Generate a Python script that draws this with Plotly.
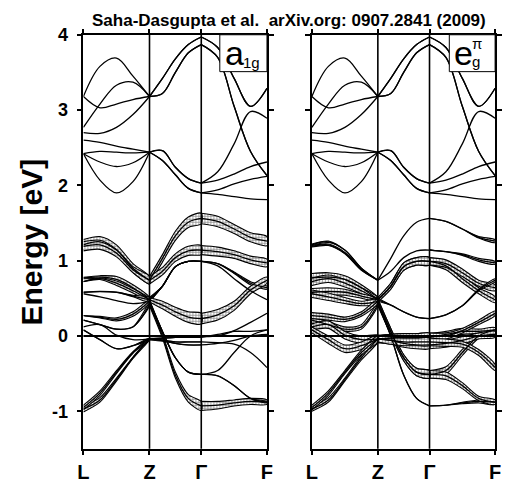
import plotly.graph_objects as go

# ---------------- data ----------------
K = [0.0, 0.09, 0.18, 0.27, 0.36, 0.4305, 0.501, 0.5715, 0.642, 0.7315, 0.821, 0.9105, 1.0]
KPOINT_POS = [0.0, 0.36, 0.642, 1.0]
KPOINT_LBL = ["L", "Z", "Γ", "F"]
E_TICKS = [-1, 0, 1, 2, 3, 4]
E_TICK_LBL = ["-1", "0", "1", "2", "3", "4"]

# upper (unhighlighted) bands
U1 = [3.18, 3.58, 3.69, 3.45, 3.18, 3.42, 3.68, 3.87, 3.97, 3.83, 3.42, 3.05, 3.29]
U2 = [2.77, 3.08, 3.33, 3.37, 3.18, 3.22, 3.50, 3.76, 3.87, 3.70, 3.05, 2.45, 2.13]
U3 = [3.18, 3.03, 3.08, 3.14, 3.18, 3.42, 3.68, 3.87, 3.97, 3.83, 3.42, 3.05, 3.29]
U4 = [2.70, 2.69, 2.77, 2.94, 3.18, 3.22, 3.50, 3.76, 3.87, 3.70, 3.05, 2.45, 2.13]
U5 = [2.60, 2.57, 2.52, 2.48, 2.44, 2.46, 2.24, 2.09, 2.03, 2.18, 2.55, 2.98, 2.89]
U6 = [2.42, 2.45, 2.44, 2.43, 2.44, 2.33, 2.14, 1.96, 1.90, 1.88, 1.85, 1.82, 1.81]
U7 = [2.42, 2.31, 2.25, 2.30, 2.44, 2.46, 2.24, 2.09, 2.03, 2.07, 2.15, 2.25, 2.31]
U8 = [2.42, 2.07, 1.90, 2.05, 2.44, 2.33, 2.14, 1.96, 1.90, 1.94, 2.02, 2.08, 2.12]

# lower (t2g) bands
B1 = [1.21, 1.25, 1.14, 0.90, 0.74, 1.03, 1.33, 1.51, 1.56, 1.52, 1.42, 1.31, 1.26]
B2 = [1.19, 1.21, 1.10, 0.88, 0.74, 0.86, 1.04, 1.13, 1.14, 1.12, 1.08, 1.01, 0.97]
B3 = [0.77, 0.78, 0.75, 0.64, 0.48, 0.66, 0.92, 0.99, 0.99, 0.93, 0.76, 0.60, 0.48]
B4 = [0.72, 0.76, 0.70, 0.60, 0.48, 0.66, 0.92, 0.99, 0.99, 0.96, 0.84, 0.70, 0.64]
B5 = [0.58, 0.59, 0.58, 0.53, 0.48, 0.41, 0.32, 0.25, 0.23, 0.28, 0.40, 0.61, 0.74]
B6 = [0.56, 0.52, 0.47, 0.43, 0.46, 0.06, -0.29, -0.48, -0.51, -0.46, -0.22, 0.00, 0.08]
B7 = [0.21, 0.15, 0.09, 0.12, 0.42, 0.00, -0.52, -0.83, -0.93, -0.92, -0.89, -0.87, -0.88]
B8 = [0.27, 0.25, 0.22, 0.29, 0.46, 0.06, -0.29, -0.48, -0.51, -0.53, -0.66, -0.83, -0.88]
B9 = [0.12, 0.15, 0.01, -0.05, -0.04, -0.03, -0.02, -0.02, -0.02, 0.02, 0.06, 0.06, 0.08]
B10 = [0.08, -0.05, -0.17, -0.13, -0.04, -0.06, -0.10, -0.12, -0.12, -0.10, -0.06, 0.00, 0.02]
B11 = [-0.97, -0.85, -0.58, -0.29, -0.04, -0.03, -0.02, -0.02, -0.01, 0.00, 0.07, 0.18, 0.30]
B12 = [-0.95, -0.76, -0.48, -0.22, -0.04, -0.06, -0.08, -0.08, -0.08, -0.09, -0.11, -0.22, -0.42]

# fat-band half widths (eV), a1g character
A1 = [0.07, 0.07, 0.07, 0.06, 0.05, 0.05, 0.06, 0.07, 0.07, 0.07, 0.06, 0.06, 0.06]
A2 = [0.06, 0.06, 0.05, 0.04, 0.05, 0.05, 0.05, 0.06, 0.06, 0.06, 0.05, 0.05, 0.05]
A3 = [0.01, 0.02, 0.04, 0.04, 0.03, 0.0, 0.0, 0.0, 0.0, 0.0, 0.0, 0.0, 0.0]
A4 = [0.0, 0.01, 0.03, 0.03, 0.02, 0.0, 0.0, 0.0, 0.0, 0.0, 0.01, 0.02, 0.02]
A5 = [0.0, 0.0, 0.0, 0.01, 0.03, 0.05, 0.06, 0.07, 0.07, 0.07, 0.06, 0.05, 0.04]
A6 = [0.0] * 13
A7 = [0.0, 0.0, 0.0, 0.0, 0.02, 0.03, 0.04, 0.05, 0.06, 0.05, 0.04, 0.04, 0.03]
A8 = [0.0, 0.01, 0.02, 0.03, 0.02, 0.0, 0.0, 0.0, 0.0, 0.0, 0.0, 0.0, 0.01]
A9 = [0.0] * 13
A10 = [0.0, 0.0, 0.0, 0.0, 0.01, 0.01, 0.0, 0.0, 0.0, 0.0, 0.0, 0.0, 0.0]
A11 = [0.04, 0.03, 0.02, 0.01, 0.01, 0.0, 0.0, 0.0, 0.0, 0.0, 0.0, 0.0, 0.0]
A12 = [0.03, 0.03, 0.02, 0.01, 0.01, 0.0, 0.0, 0.0, 0.0, 0.0, 0.0, 0.0, 0.0]

# fat-band half widths (eV), eg-pi character
G1 = [0.01, 0.01, 0.0, 0.0, 0.0, 0.0, 0.0, 0.0, 0.0, 0.0, 0.0, 0.01, 0.02]
G2 = [0.01, 0.01, 0.01, 0.01, 0.0, 0.0, 0.0, 0.0, 0.0, 0.0, 0.01, 0.02, 0.02]
G3 = [0.06, 0.06, 0.05, 0.04, 0.03, 0.04, 0.05, 0.05, 0.05, 0.05, 0.05, 0.04, 0.04]
G4 = [0.05, 0.05, 0.05, 0.04, 0.03, 0.04, 0.05, 0.05, 0.05, 0.05, 0.05, 0.04, 0.04]
G5 = [0.05, 0.05, 0.04, 0.03, 0.02, 0.0, 0.0, 0.0, 0.0, 0.0, 0.0, 0.01, 0.02]
G6 = [0.05, 0.05, 0.04, 0.03, 0.03, 0.04, 0.04, 0.05, 0.05, 0.05, 0.04, 0.03, 0.03]
G7 = [0.04, 0.04, 0.03, 0.03, 0.02, 0.0, 0.0, 0.0, 0.0, 0.0, 0.01, 0.02, 0.03]
G8 = [0.04, 0.04, 0.03, 0.03, 0.03, 0.04, 0.04, 0.05, 0.05, 0.05, 0.04, 0.03, 0.03]
G9 = [0.04, 0.05, 0.05, 0.05, 0.05, 0.05, 0.05, 0.05, 0.05, 0.04, 0.04, 0.03, 0.03]
G10 = [0.04, 0.05, 0.05, 0.05, 0.05, 0.05, 0.05, 0.05, 0.05, 0.05, 0.05, 0.04, 0.04]
G11 = [0.03, 0.03, 0.02, 0.03, 0.04, 0.05, 0.05, 0.05, 0.05, 0.04, 0.03, 0.03, 0.03]
G12 = [0.03, 0.03, 0.02, 0.03, 0.04, 0.05, 0.05, 0.05, 0.05, 0.05, 0.04, 0.04, 0.04]

UPPER = [U1, U2, U3, U4, U5, U6, U7, U8]
LOWER = [B1, B2, B3, B4, B5, B6, B7, B8, B9, B10, B11, B12]
W_A1G = [A1, A2, A3, A4, A5, A6, A7, A8, A9, A10, A11, A12]
W_EG = [G1, G2, G3, G4, G5, G6, G7, G8, G9, G10, G11, G12]

SEGS = [(0, 4), (4, 8), (8, 12)]


def seg_xy(vals):
    xs, ys = [], []
    for a, b in SEGS:
        xs += K[a:b + 1] + [None]
        ys += vals[a:b + 1] + [None]
    return xs, ys


def fat_xy(vals, w):
    xs, ys = [], []
    for a, b in SEGS:
        ww = w[a:b + 1]
        if max(ww) <= 0:
            continue
        kk = K[a:b + 1]
        vv = vals[a:b + 1]
        up = [v + d for v, d in zip(vv, ww)]
        lo = [v - d for v, d in zip(vv, ww)]
        xs += kk + kk[::-1] + [None]
        ys += up + lo[::-1] + [None]
    return xs, ys


fig = go.Figure()
FONT = "Liberation Sans"

for xa, ya, widths in [("x", "y", W_A1G), ("x2", "y2", W_EG)]:
    # fat bands
    for vals, w in zip(LOWER, widths):
        fx, fy = fat_xy(vals, w)
        if fx:
            fig.add_trace(go.Scatter(
                x=fx, y=fy, xaxis=xa, yaxis=ya, mode="lines", fill="toself",
                line=dict(color="black", width=1.1, shape="spline", smoothing=0.8),
                fillcolor="white",
                fillpattern=dict(shape="+", size=3, solidity=0.4,
                                 fgcolor="black", bgcolor="white"),
                hoverinfo="skip", showlegend=False))
    # band lines
    for vals in UPPER + LOWER:
        lx, ly = seg_xy(vals)
        fig.add_trace(go.Scatter(
            x=lx, y=ly, xaxis=xa, yaxis=ya, mode="lines",
            line=dict(color="black", width=1.3, shape="spline", smoothing=1.0),
            connectgaps=False, hoverinfo="skip", showlegend=False))

# geometry
Y_DOM = [0.0838, 0.9483]
X1_DOM = [0.1567, 0.5283]
X2_DOM = [0.6192, 0.9901]

xcommon = dict(range=[0, 1], showgrid=False, zeroline=False, showline=True,
               linecolor="black", linewidth=1.5, mirror="ticks", ticks="outside",
               ticklen=4, tickwidth=1.5, tickcolor="black",
               tickvals=KPOINT_POS, ticktext=KPOINT_LBL,
               tickfont=dict(family=FONT, size=20, color="black", weight="bold"))
ycommon = dict(range=[-1.5, 4], showgrid=False, zeroline=False, showline=True,
               linecolor="black", linewidth=1.5, mirror="ticks", ticks="outside",
               ticklen=5, tickwidth=1.5, tickcolor="black",
               tickvals=E_TICKS, ticktext=E_TICK_LBL,
               tickfont=dict(family=FONT, size=18, color="black", weight="bold"))

fig.update_layout(
    width=506, height=489, margin=dict(l=0, r=0, t=0, b=0),
    paper_bgcolor="white", plot_bgcolor="white",
    xaxis=dict(domain=X1_DOM, anchor="y", **xcommon),
    xaxis2=dict(domain=X2_DOM, anchor="y2", **xcommon),
    yaxis=dict(domain=Y_DOM, anchor="x", ticklabelstandoff=5, **ycommon),
    yaxis2=dict(domain=Y_DOM, anchor="x2", showticklabels=False, **ycommon),
)

shapes = []
for xr, yr in [("x", "y"), ("x2", "y2")]:
    for kp in KPOINT_POS[1:3]:
        shapes.append(dict(type="line", xref=xr, yref=yr + " domain", x0=kp, x1=kp,
                           y0=0, y1=1, line=dict(color="black", width=1.6), layer="above"))
    shapes.append(dict(type="line", xref=xr + " domain", yref=yr, x0=0, x1=1,
                       y0=0, y1=0, line=dict(color="black", width=2), layer="above"))
# label boxes
shapes.append(dict(type="rect", xref="x", yref="y", x0=0.743, x1=1.0, y0=3.51, y1=4.0,
                   line=dict(color="black", width=1), fillcolor="white", layer="above"))
shapes.append(dict(type="rect", xref="x2", yref="y2", x0=0.75, x1=1.0, y0=3.51, y1=4.0,
                   line=dict(color="black", width=1), fillcolor="white", layer="above"))
fig.update_layout(shapes=shapes)

ann = [
    dict(text="<b>Saha-Dasgupta et al.  arXiv.org: 0907.2841 (2009)</b>", xref="paper",
         yref="paper", x=0.572, y=0.979, showarrow=False,
         font=dict(family=FONT, size=17, color="black"), xanchor="center", yanchor="middle"),
    dict(text="<b>Energy [eV]</b>", xref="paper", yref="paper", x=0.051, y=0.515,
         showarrow=False, textangle=-90, font=dict(family=FONT, size=30, color="black"),
         xanchor="center", yanchor="middle"),
    dict(text="a", xref="x", yref="y", x=0.76, y=3.76, showarrow=False, xanchor="left",
         yanchor="middle", font=dict(family=FONT, size=34, color="black")),
    dict(text="1g", xref="x", yref="y", x=0.86, y=3.63, showarrow=False, xanchor="left",
         yanchor="middle", font=dict(family=FONT, size=15, color="black")),
    dict(text="e", xref="x2", yref="y2", x=0.765, y=3.76, showarrow=False, xanchor="left",
         yanchor="middle", font=dict(family=FONT, size=34, color="black")),
    dict(text="π", xref="x2", yref="y2", x=0.865, y=3.89, showarrow=False, xanchor="left",
         yanchor="middle", font=dict(family=FONT, size=15, color="black")),
    dict(text="g", xref="x2", yref="y2", x=0.865, y=3.64, showarrow=False, xanchor="left",
         yanchor="middle", font=dict(family=FONT, size=15, color="black")),
]
fig.update_layout(annotations=ann)

fig.write_html("out.html")
